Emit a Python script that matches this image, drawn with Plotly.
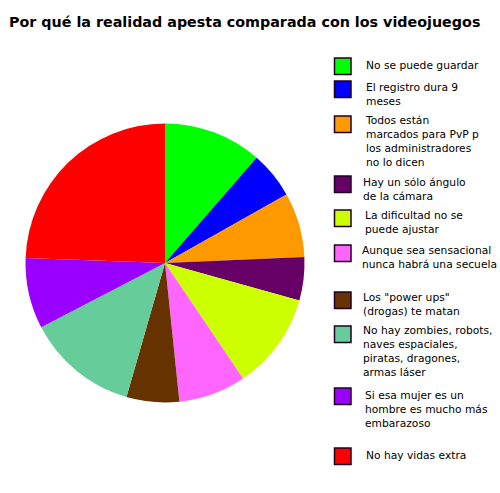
import plotly.graph_objects as go

# datos (porcentaje aproximado de cada porcion)
labels = [
    "No se puede guardar",
    "El registro dura 9<br>meses",
    "Todos están<br>marcados para PvP p<br>los administradores<br>no lo dicen",
    "Hay un sólo ángulo<br>de la cámara",
    "La dificultad no se<br>puede ajustar",
    "Aunque sea sensacional<br>nunca habrá una secuela",
    'Los "power ups"<br>(drogas) te matan',
    "No hay zombies, robots,<br>naves espaciales,<br>piratas, dragones,<br>armas láser",
    "Si esa mujer es un<br>hombre es mucho más<br>embarazoso",
    "No hay vidas extra",
]
values = [11.4, 5.4, 7.5, 5.0, 11.2, 7.8, 6.1, 12.9, 8.2, 24.4]
colors = ["#00FF00", "#0000FF", "#FF9900", "#660066", "#CCFF00",
          "#FF66FF", "#663300", "#66CC99", "#9900FF", "#FF0000"]

titulo = "Por qué la realidad apesta comparada con los videojuegos"

# el body de la pagina se deja sin margen
W, H = 500, 493

# posicion de la leyenda dibujada a mano (pixeles)
cuadro_top = [58, 81, 116, 176, 210, 245, 292, 326, 388, 448]
texto_y = [65, 87, 120, 182, 215, 250, 297, 330, 395, 455]
texto_x = [365, 365, 364, 362, 364, 361, 362, 362, 364, 365]


def px(x):
    return x / W


def py(y):
    return 1 - y / H


fig = go.Figure(go.Pie(
    labels=labels,
    values=values,
    sort=False,
    direction="clockwise",
    rotation=0,
    marker=dict(colors=colors, line=dict(width=0)),
    textinfo="none",
    hoverinfo="label+percent",
    domain=dict(x=[px(25.5), px(304.5)], y=[py(402.5), py(123.5)]),
))

shapes = []
annotations = [dict(
    text="<b>" + titulo + "</b>",
    x=px(7), y=py(22), xref="paper", yref="paper",
    xanchor="left", yanchor="middle", showarrow=False,
    font=dict(family="DejaVu Sans", size=14.3, color="#000000"),
)]

for i in range(len(labels)):
    shapes.append(dict(
        type="rect", xref="paper", yref="paper",
        x0=px(334.5), x1=px(351), y0=py(cuadro_top[i]), y1=py(cuadro_top[i] + 16.5),
        fillcolor=colors[i], line=dict(color="#220022", width=1.5),
    ))
    annotations.append(dict(
        text=labels[i], x=px(texto_x[i] - 1), y=py(texto_y[i] - 8),
        xref="paper", yref="paper", xanchor="left", yanchor="top",
        align="left", showarrow=False,
        font=dict(family="DejaVu Sans", size=10.7, color="#000000"),
    ))

fig.update_layout(
    width=W, height=H,
    margin=dict(l=0, r=0, t=0, b=0),
    paper_bgcolor="white",
    plot_bgcolor="white",
    showlegend=False,
    shapes=shapes,
    annotations=annotations,
)

fig.write_html("out.html", config={"displayModeBar": False},
               post_script="document.body.style.margin = '0';")
